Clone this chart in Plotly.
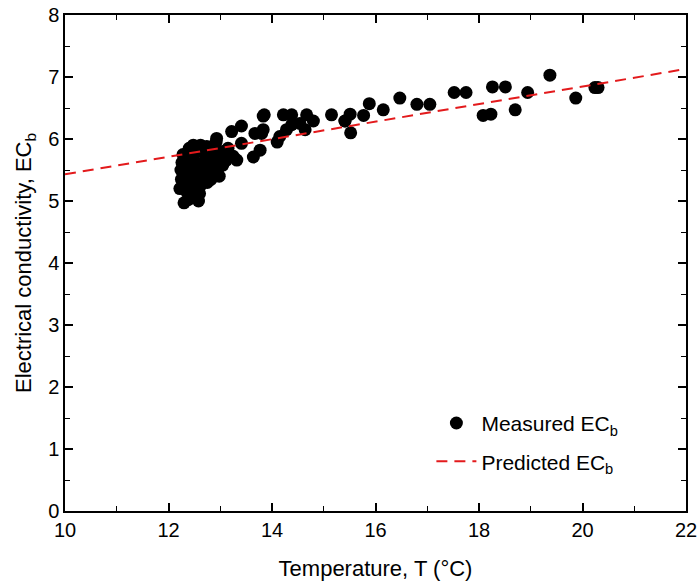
import plotly.graph_objects as go

# Measured EC_b (temperature °C, conductivity)
meas_T = [
    12.22, 12.25, 12.24, 12.26, 12.28, 12.40, 12.30, 12.38, 12.45, 12.35,
    12.30, 12.40, 12.35, 12.42, 12.38, 12.48, 12.50, 12.52, 12.55, 12.58,
    12.60, 12.62, 12.65, 12.68, 12.55, 12.70, 12.72, 12.75, 12.78, 12.80,
    12.85, 12.88, 12.90, 12.95, 13.00, 13.05, 12.48, 12.62, 12.82, 12.92,
    13.10, 13.15, 12.45, 12.58, 13.25, 13.05, 12.98,
    12.74, 12.87, 12.93, 13.12, 13.32, 13.64, 13.77, 13.41, 13.22, 13.41,
    13.67, 13.80, 13.83, 13.83, 13.85, 14.15, 14.10, 14.22, 14.28, 14.38,
    14.38, 14.54, 14.64, 14.67, 14.80, 15.15, 15.41, 15.41, 15.51, 15.52,
    15.77, 15.88, 16.15, 16.47, 16.80, 17.05, 17.52, 17.75, 18.08, 18.23,
    18.26, 18.51, 18.70, 18.94, 19.37, 19.87, 20.24, 20.30,
]
meas_EC = [
    5.20, 5.35, 5.50, 5.62, 5.75, 5.85, 4.97, 5.02, 5.08, 5.15,
    5.28, 5.30, 5.42, 5.55, 5.68, 5.72, 5.45, 5.20, 5.35, 5.60,
    5.12, 5.25, 5.48, 5.78, 5.82, 5.38, 5.62, 5.30, 5.50, 5.70,
    5.42, 5.58, 5.85, 5.50, 5.65, 5.80, 5.90, 5.90, 5.35, 5.95,
    5.70, 5.85, 5.60, 5.00, 5.72, 5.58, 5.40,
    5.88, 5.77, 6.01, 5.66, 5.66, 5.71, 5.82, 5.93, 6.12, 6.21,
    6.09, 6.09, 6.15, 6.37, 6.39, 6.04, 5.95, 6.39, 6.15, 6.39,
    6.23, 6.25, 6.15, 6.39, 6.29, 6.39, 6.29, 6.29, 6.40, 6.10,
    6.38, 6.57, 6.47, 6.66, 6.56, 6.56, 6.75, 6.75, 6.38, 6.40,
    6.84, 6.84, 6.47, 6.75, 7.03, 6.66, 6.83, 6.83,
]

# Predicted EC_b line
pred_T = [10, 22]
pred_EC = [5.43, 7.13]

x_ticks = [10, 12, 14, 16, 18, 20, 22]
y_ticks = [0, 1, 2, 3, 4, 5, 6, 7, 8]

FONT = "Liberation Sans, Arial, sans-serif"

fig = go.Figure()
fig.add_trace(go.Scatter(
    x=meas_T, y=meas_EC, mode="markers", name="Measured EC<sub>b</sub>",
    marker=dict(color="black", size=13, line=dict(width=0)),
    legendgroup="a",
))
fig.add_trace(go.Scatter(
    x=pred_T, y=pred_EC, mode="lines", name="Predicted EC<sub>b</sub>",
    line=dict(color="#e31a1c", width=2, dash="11px,7px"),
    legendgroup="b",
))

axis_common = dict(
    showgrid=False, zeroline=False, showline=True, linecolor="black",
    linewidth=1.5, mirror="ticks", ticks="inside", ticklen=8, tickwidth=1.5,
    tickcolor="black", tickfont=dict(family=FONT, size=20, color="black"),
    automargin=False,
)

fig.update_xaxes(
    range=[10, 22], tickvals=x_ticks,
    minor=dict(dtick=1, ticks="inside", ticklen=5, tickwidth=1.2, tickcolor="black"),
    title=dict(text="Temperature, T (°C)", font=dict(family=FONT, size=22, color="black"), standoff=21),
    **axis_common,
)
fig.update_yaxes(
    range=[0, 8], tickvals=y_ticks,
    minor=dict(dtick=0.5, ticks="inside", ticklen=5, tickwidth=1.2, tickcolor="black"),
    title=dict(text="Electrical conductivity, EC<sub>b</sub>", font=dict(family=FONT, size=22, color="black"), standoff=10),
    **axis_common,
)

fig.update_layout(
    width=699, height=585,
    margin=dict(l=65, r=13, t=15, b=74),
    paper_bgcolor="white", plot_bgcolor="white",
    legend=dict(
        x=0.59, y=0.218, xanchor="left", yanchor="top",
        font=dict(family=FONT, size=21, color="black"),
        bgcolor="rgba(0,0,0,0)", tracegroupgap=8, itemwidth=40,
    ),
)

fig.write_html("out.html")
